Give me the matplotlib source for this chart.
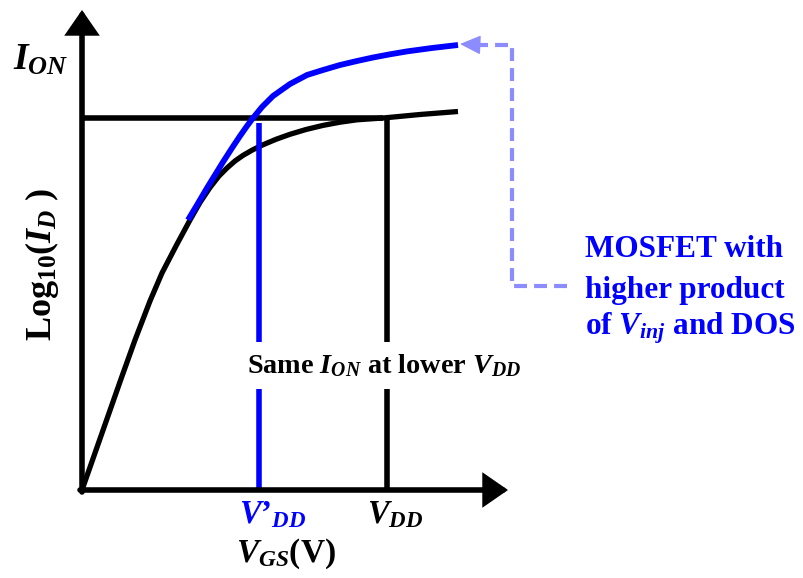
import matplotlib
matplotlib.use("Agg")
import matplotlib.pyplot as plt

# curves traced on the sketch, x = V_GS, y = log10(I_D) (arbitrary units)
black_vgs = [0, 13, 26, 39, 53, 68, 80, 94, 108, 118, 128, 137, 145, 153, 161,
             170, 180, 194, 208, 224, 241, 258, 275, 301, 338, 376]
black_logid = [0, 37, 74, 111, 150, 189, 217, 244, 270, 287.5, 302.5, 314, 322, 329,
               334.6, 339.8, 344.8, 350.7, 355.7, 360.5, 364.6, 367.8, 370.2, 372,
               375.5, 378.5]

blue_vgs = [106, 115, 125, 133, 141, 150, 158, 165, 171, 180, 191, 208, 225, 241,
            258, 275, 291, 308, 325, 350, 376]
blue_logid = [270, 285, 302, 315, 328, 342, 354, 364, 372, 383, 394, 406, 415, 420,
              425, 429, 432.5, 435.7, 438.6, 442, 445]

i_on = 372      # common on-current level
vdd = 305       # supply voltage of the standard device
vdd_low = 177   # lower supply voltage V'_DD
blue_top = 367

plt.rcParams['font.family'] = 'Liberation Serif'
plt.rcParams['font.weight'] = 'bold'
plt.rcParams['mathtext.fontset'] = 'custom'
plt.rcParams['mathtext.rm'] = 'Liberation Serif:bold'
plt.rcParams['mathtext.bf'] = 'Liberation Serif:bold'
plt.rcParams['mathtext.it'] = 'Liberation Serif:italic:bold'

BLUE = '#0000ff'
LIGHT = '#8c8cff'

fig = plt.figure(figsize=(8.04, 5.78), dpi=100)
ax = fig.add_axes([0, 0, 1, 1])
ax.set_xlim(-82, 722)
ax.set_ylim(-88, 490)
ax.axis('off')

# axes with arrow heads
arrow = dict(arrowstyle='-|>,head_length=0.65,head_width=0.45', mutation_scale=20,
             lw=4, color='black', shrinkA=0, shrinkB=0, joinstyle='miter')
ax.annotate('', xy=(0, 480), xytext=(0, -2), arrowprops=arrow)
ax.annotate('', xy=(426, 0), xytext=(-2, 0), arrowprops=arrow)

# I_ON level and V_DD marker
ax.plot([0, vdd - 4], [i_on, i_on], color='black', lw=4, solid_capstyle='butt')
ax.plot([vdd, vdd], [0, i_on], color='black', lw=4, solid_capstyle='butt')
ax.plot(black_vgs, black_logid, color='black', lw=3.8, solid_capstyle='butt',
        solid_joinstyle='round')

# improved device
ax.plot(blue_vgs, blue_logid, color=BLUE, lw=4.2, solid_capstyle='butt',
        solid_joinstyle='round', zorder=3)
ax.plot([vdd_low, vdd_low], [0, blue_top], color=BLUE, lw=4, solid_capstyle='butt')

# dashed pointer to the blue curve
ax.plot([485, 430, 430, 398], [204, 204, 445, 445], color=LIGHT, lw=3,
        linestyle=(0, (3.1, 1.7)))
ax.annotate('', xy=(378, 446), xytext=(400, 445),
            arrowprops=dict(arrowstyle='-|>,head_length=1.3,head_width=0.6',
                            mutation_scale=10, lw=1, color=LIGHT,
                            shrinkA=0, shrinkB=0))

# labels
ax.text(-69, 420, r'$I_{ON}$', fontsize=27, ha='left', va='baseline')
ax.text(-40, 226, r'Log$_{10}$($I_D$ )', fontsize=26, rotation=90,
        ha='center', va='center')
ax.text(157, -33, r'$V$’$_{DD}$', fontsize=23.5, color=BLUE, ha='left', va='baseline')
ax.text(285, -33, r'$V_{DD}$', fontsize=23.5, ha='left', va='baseline')
ax.text(154, -72, r'$V_{GS}$(V)', fontsize=24, ha='left', va='baseline')
ax.text(302, 117, r'Same $I_{ON}$ at lower $V_{DD}$', fontsize=20.3,
        ha='center', va='baseline',
        bbox=dict(boxstyle='square,pad=0.35', fc='white', ec='none'), zorder=5)

ax.text(503, 233, 'MOSFET with', fontsize=22.5, color=BLUE, ha='left', va='baseline')
ax.text(503, 192, 'higher product', fontsize=22.5, color=BLUE, ha='left', va='baseline')
ax.text(503, 155, r'of $V_{inj}$ and DOS', fontsize=22.5, color=BLUE,
        ha='left', va='baseline')

fig.savefig('out.png', dpi=100)
